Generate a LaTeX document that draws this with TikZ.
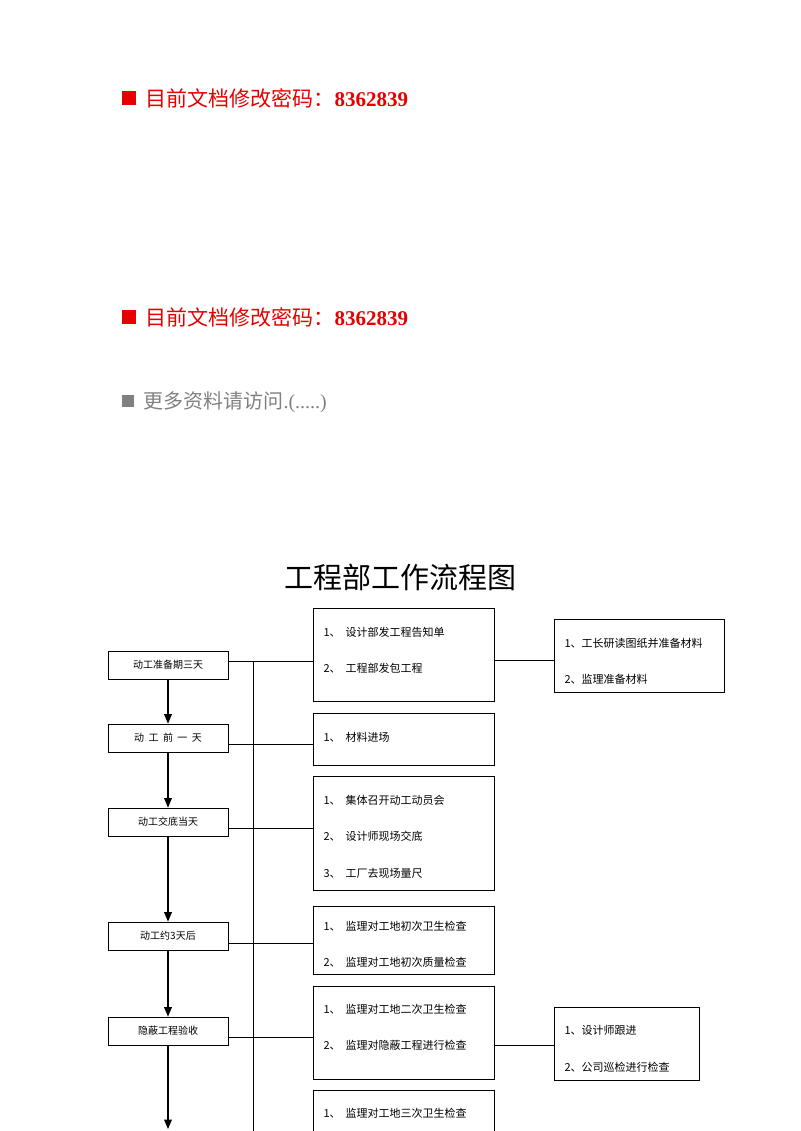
\documentclass[tikz,border=0pt]{standalone}
\usepackage{fontspec}
\setmainfont{Liberation Serif}
\newfontfamily\cjk{Noto Sans CJK SC}
\usetikzlibrary{arrows}
\definecolor{notered}{RGB}{230,0,0}
\definecolor{notegray}{RGB}{128,128,128}
\begin{document}
\begin{tikzpicture}[x=1pt,y=-1pt,>=triangle 45,
    stagebox/.style={draw,thick,minimum width=120pt,minimum height=28pt,
      inner sep=0pt,font=\cjk\fontsize{10}{12}\selectfont},
    taskbox/.style={draw,thick,anchor=north west,font=\cjk\fontsize{11}{13}\selectfont},
    tasktext/.style={anchor=west,font=\cjk\fontsize{11}{13}\selectfont}]
  \useasboundingbox (0,0) rectangle (800,1131);

  % notes at the top
  \fill[notered] (122,91) rectangle (136,105);
  \node[anchor=west,text=notered,font=\fontsize{21}{24}\selectfont] (note1) at (142,98)
    {{\cjk 目前文档修改密码：}\textbf{8362839}};
  \fill[notered] (122,310) rectangle (136,324);
  \node[anchor=west,text=notered,font=\fontsize{21}{24}\selectfont] (note2) at (142,317)
    {{\cjk 目前文档修改密码：}\textbf{8362839}};
  \fill[notegray] (122,395) rectangle (134,407);
  \node[anchor=west,text=notegray,font=\fontsize{20}{24}\selectfont] (note3) at (140,402)
    {{\cjk 更多资料请访问}.(.....)};

  \node[font=\cjk\fontsize{29}{32}\selectfont] (title) at (400,577) {工程部工作流程图};

  % stages
  \node[stagebox] (s1) at (168,665) {动工准备期三天};
  \node[stagebox] (s2) at (168,738) {动\ \ 工\ \ 前\ \ 一\ \ 天};
  \node[stagebox] (s3) at (168,822) {动工交底当天};
  \node[stagebox] (s4) at (168,936) {动工约3天后};
  \node[stagebox] (s5) at (168,1031) {隐蔽工程验收};
  \coordinate (s6) at (168,1129);
  \draw[->,very thick] (s1) -- (s2);
  \draw[->,very thick] (s2) -- (s3);
  \draw[->,very thick] (s3) -- (s4);
  \draw[->,very thick] (s4) -- (s5);
  \draw[->,very thick] (s5) -- (s6);

  % trunk
  \coordinate (top) at (253,661);
  \coordinate (bot) at (253,1131);
  \draw (top) -- (bot);

  % tasks
  \node[taskbox,minimum width=181pt,minimum height=93pt] (t1) at (313,608) {};
  \node[tasktext] at (320,632) {1、\ \ 设计部发工程告知单};
  \node[tasktext] at (320,668) {2、\ \ 工程部发包工程};
  \node[taskbox,minimum width=181pt,minimum height=52pt] (t2) at (313,713) {};
  \node[tasktext] at (320,737) {1、\ \ 材料进场};
  \node[taskbox,minimum width=181pt,minimum height=114pt] (t3) at (313,776) {};
  \node[tasktext] at (320,800) {1、\ \ 集体召开动工动员会};
  \node[tasktext] at (320,836) {2、\ \ 设计师现场交底};
  \node[tasktext] at (320,873) {3、\ \ 工厂去现场量尺};
  \node[taskbox,minimum width=181pt,minimum height=68pt] (t4) at (313,906) {};
  \node[tasktext] at (320,926) {1、\ \ 监理对工地初次卫生检查};
  \node[tasktext] at (320,962) {2、\ \ 监理对工地初次质量检查};
  \node[taskbox,minimum width=181pt,minimum height=93pt] (t5) at (313,986) {};
  \node[tasktext] at (320,1009) {1、\ \ 监理对工地二次卫生检查};
  \node[tasktext] at (320,1045) {2、\ \ 监理对隐蔽工程进行检查};
  \node[taskbox,minimum width=181pt,minimum height=60pt] (t6) at (313,1090) {};
  \node[tasktext] at (320,1113) {1、\ \ 监理对工地三次卫生检查};

  % follow-ups
  \node[taskbox,minimum width=170pt,minimum height=73pt] (r1) at (554,619) {};
  \node[tasktext] at (561,643) {1、工长研读图纸并准备材料};
  \node[tasktext] at (561,679) {2、监理准备材料};
  \node[taskbox,minimum width=145pt,minimum height=73pt] (r2) at (554,1007) {};
  \node[tasktext] at (561,1030) {1、设计师跟进};
  \node[tasktext] at (561,1067) {2、公司巡检进行检查};

  % links
  \draw (s1.east |- 0,661) -- (t1.west |- 0,661);
  \draw (s2.east |- 0,744) -- (t2.west |- 0,744);
  \draw (s3.east |- 0,828) -- (t3.west |- 0,828);
  \draw (s4.east |- 0,943) -- (t4.west |- 0,943);
  \draw (s5.east |- 0,1037) -- (t5.west |- 0,1037);
  \draw (t1.east |- 0,660) -- (r1.west |- 0,660);
  \draw (t5.east |- 0,1045) -- (r2.west |- 0,1045);
\end{tikzpicture}
\end{document}
